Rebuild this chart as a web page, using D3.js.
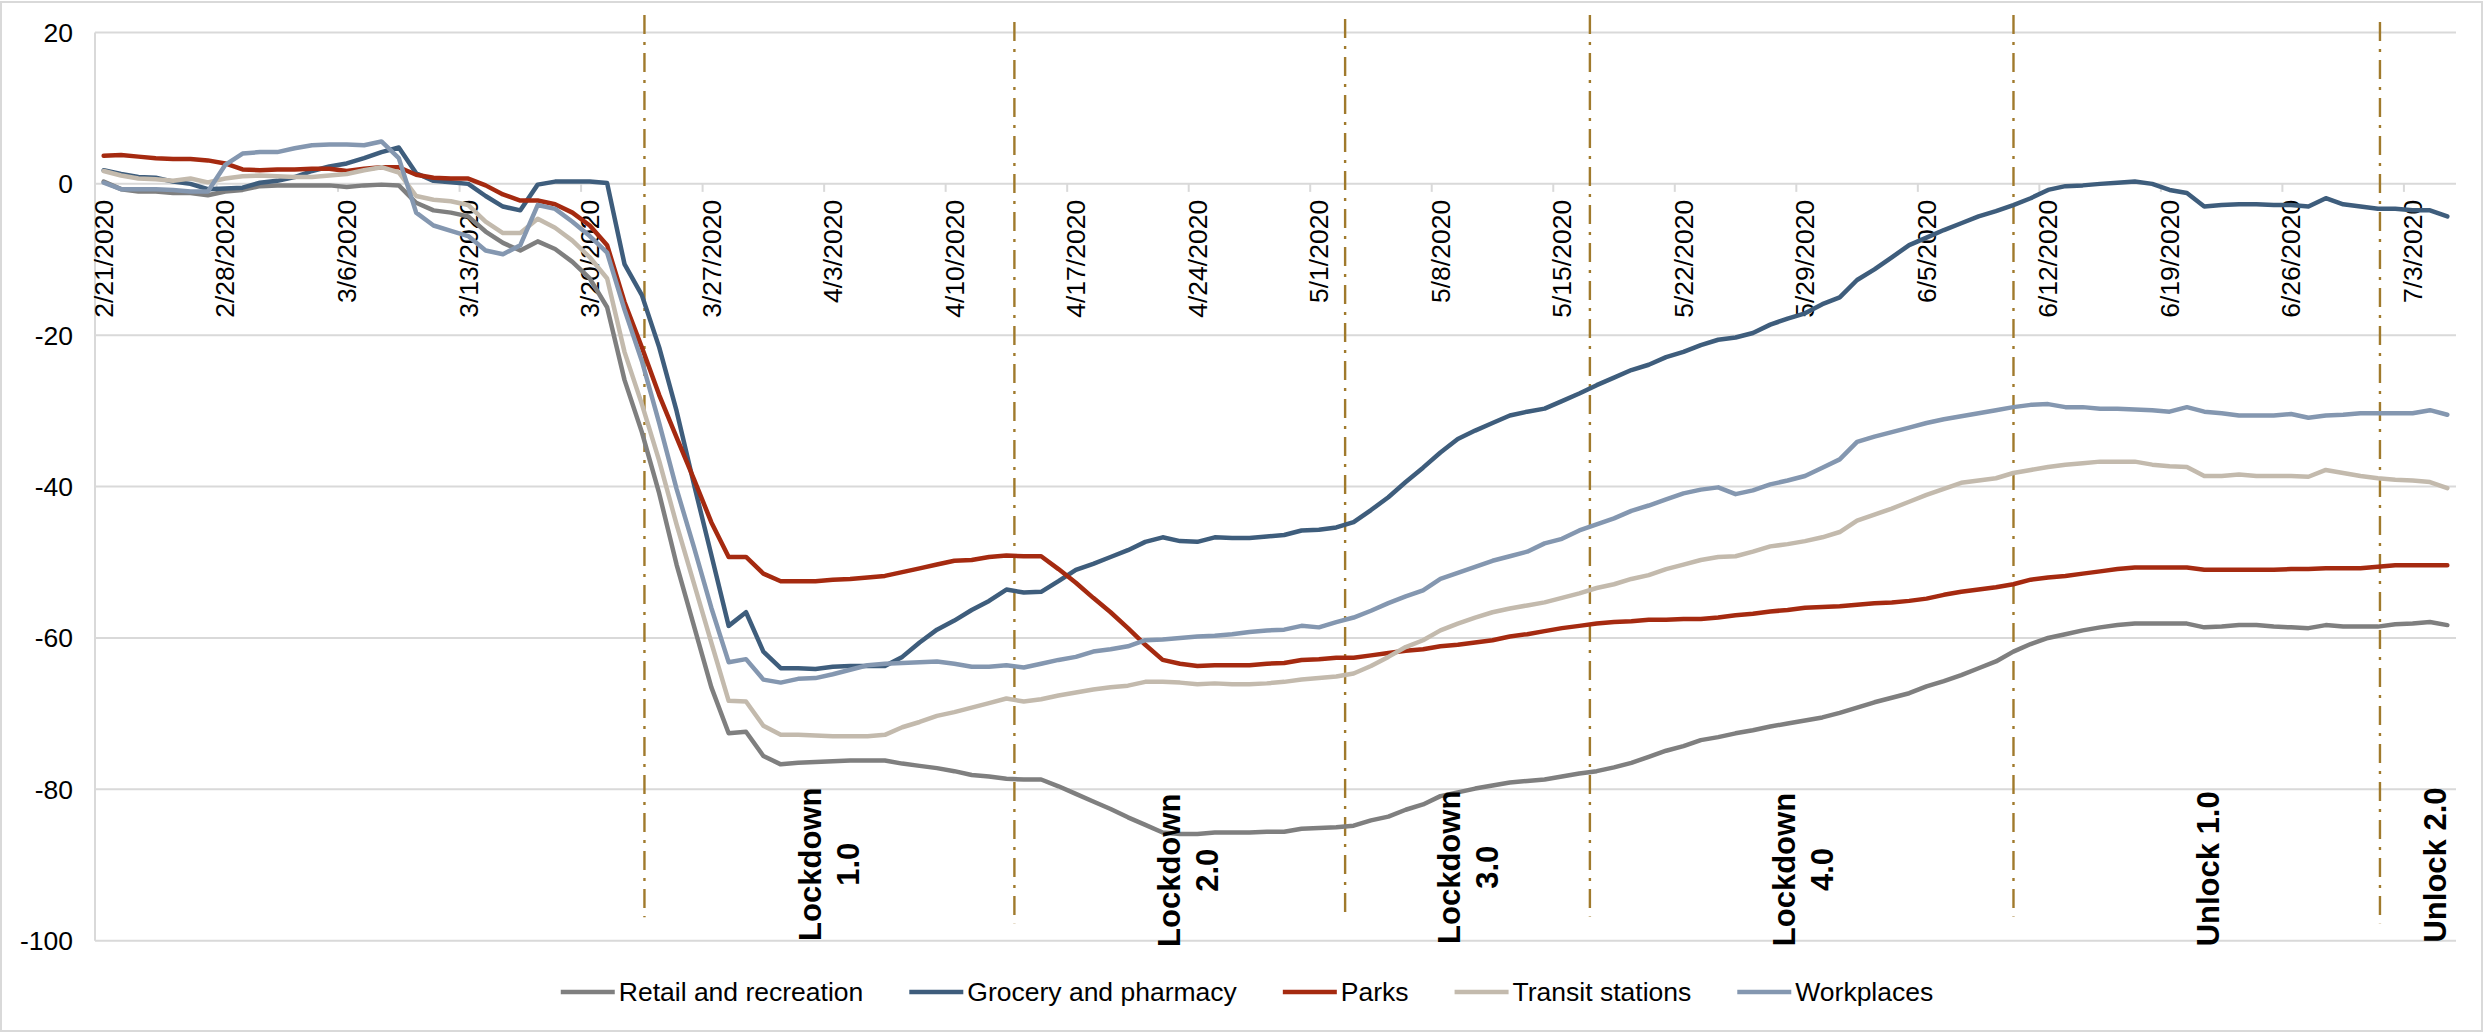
<!DOCTYPE html>
<html>
<head>
<meta charset="utf-8">
<script src="https://cdn.jsdelivr.net/npm/d3@7"></script>
<style>
  html, body { margin: 0; padding: 0; background: #ffffff; }
  svg { display: block; font-family: "Liberation Sans", Arial, sans-serif; }
</style>
</head>
<body>
<svg id="chart" width="2484" height="1033"></svg>
<script>
// ---- Data: mobility change from baseline (%), daily, 21 Feb 2020 – 5 Jul 2020 ----
const categories = d3.utcDay.range(new Date(Date.UTC(2020, 1, 21)), new Date(Date.UTC(2020, 6, 6)));

const tickLabels = ["2/21/2020", "2/28/2020", "3/6/2020", "3/13/2020", "3/20/2020", "3/27/2020",
  "4/3/2020", "4/10/2020", "4/17/2020", "4/24/2020", "5/1/2020", "5/8/2020", "5/15/2020",
  "5/22/2020", "5/29/2020", "6/5/2020", "6/12/2020", "6/19/2020", "6/26/2020", "7/3/2020"];

const yTicks = [20, 0, -20, -40, -60, -80, -100];

const seriesNames = ["Retail and recreation", "Grocery and pharmacy", "Parks", "Transit stations", "Workplaces"];

const retail = [0.3,-0.7,-1.0,-1.0,-1.2,-1.2,-1.5,-1.0,-0.8,-0.3,
  -0.2,-0.2,-0.2,-0.2,-0.4,-0.2,-0.1,-0.2,-2.5,-3.5,
  -3.8,-4.3,-6.3,-7.8,-8.8,-7.6,-8.6,-10.3,-12.5,-16.3,
  -25.9,-32.8,-40.9,-50.3,-58.4,-66.5,-72.6,-72.4,-75.6,-76.7,
  -76.5,-76.4,-76.3,-76.2,-76.2,-76.2,-76.6,-76.9,-77.2,-77.6,
  -78.1,-78.3,-78.6,-78.7,-78.7,-79.6,-80.6,-81.6,-82.6,-83.7,
  -84.7,-85.7,-85.9,-85.9,-85.7,-85.7,-85.7,-85.6,-85.6,-85.2,
  -85.1,-85.0,-84.8,-84.1,-83.6,-82.7,-82.0,-80.9,-80.4,-79.9,
  -79.5,-79.1,-78.9,-78.7,-78.3,-77.9,-77.6,-77.1,-76.5,-75.7,
  -74.9,-74.3,-73.5,-73.1,-72.6,-72.2,-71.7,-71.3,-70.9,-70.5,
  -69.9,-69.2,-68.5,-67.9,-67.3,-66.4,-65.7,-64.9,-64.0,-63.1,
  -61.8,-60.8,-60.0,-59.5,-59.0,-58.6,-58.3,-58.1,-58.1,-58.1,
  -58.1,-58.6,-58.5,-58.3,-58.3,-58.5,-58.6,-58.7,-58.3,-58.5,
  -58.5,-58.5,-58.2,-58.1,-57.9,-58.3];

const grocery = [1.8,1.3,0.9,0.8,0.3,0.0,-0.7,-0.6,-0.5,0.15,
  0.4,0.9,1.7,2.3,2.7,3.4,4.2,4.8,1.4,0.4,
  0.2,0.0,-1.6,-3.0,-3.5,-0.1,0.3,0.3,0.3,0.1,
  -10.6,-14.7,-21.6,-30.0,-39.7,-49.0,-58.4,-56.6,-61.8,-64.0,
  -64.0,-64.1,-63.8,-63.7,-63.7,-63.7,-62.5,-60.6,-58.9,-57.7,
  -56.3,-55.1,-53.6,-54.0,-53.9,-52.5,-51.0,-50.2,-49.3,-48.4,
  -47.3,-46.7,-47.2,-47.3,-46.7,-46.8,-46.8,-46.6,-46.4,-45.8,
  -45.7,-45.4,-44.7,-43.1,-41.4,-39.4,-37.5,-35.5,-33.7,-32.6,
  -31.6,-30.6,-30.1,-29.7,-28.7,-27.7,-26.6,-25.6,-24.6,-23.9,
  -22.9,-22.2,-21.3,-20.6,-20.3,-19.7,-18.6,-17.8,-17.1,-15.9,
  -15.0,-12.7,-11.3,-9.7,-8.1,-7.1,-6.1,-5.2,-4.3,-3.6,
  -2.8,-1.9,-0.8,-0.3,-0.2,0.0,0.15,0.3,0.0,-0.8,
  -1.2,-3.0,-2.8,-2.7,-2.7,-2.8,-2.8,-3.0,-1.9,-2.7,
  -3.0,-3.3,-3.3,-3.5,-3.5,-4.3];

const parks = [3.7,3.8,3.6,3.4,3.3,3.3,3.1,2.7,1.9,1.8,
  1.9,1.9,2.0,2.0,1.7,2.0,2.2,2.2,1.2,0.8,
  0.7,0.7,-0.2,-1.4,-2.2,-2.2,-2.7,-3.8,-5.5,-8.1,
  -15.6,-21.6,-27.9,-33.5,-39.0,-44.7,-49.3,-49.3,-51.5,-52.5,
  -52.5,-52.5,-52.3,-52.2,-52.0,-51.8,-51.3,-50.8,-50.3,-49.8,
  -49.7,-49.3,-49.1,-49.2,-49.2,-50.9,-52.7,-54.7,-56.6,-58.7,
  -60.9,-62.9,-63.4,-63.7,-63.6,-63.6,-63.6,-63.4,-63.3,-62.9,
  -62.8,-62.6,-62.6,-62.3,-62.0,-61.7,-61.5,-61.1,-60.9,-60.6,
  -60.3,-59.8,-59.5,-59.1,-58.7,-58.4,-58.1,-57.9,-57.8,-57.6,
  -57.6,-57.5,-57.5,-57.3,-57.0,-56.8,-56.5,-56.3,-56.0,-55.9,
  -55.8,-55.6,-55.4,-55.3,-55.1,-54.8,-54.3,-53.9,-53.6,-53.3,
  -52.9,-52.3,-52.0,-51.8,-51.5,-51.2,-50.9,-50.7,-50.7,-50.7,
  -50.7,-51.0,-51.0,-51.0,-51.0,-51.0,-50.9,-50.9,-50.8,-50.8,
  -50.8,-50.6,-50.4,-50.4,-50.4,-50.4];

const transit = [1.7,1.1,0.7,0.6,0.4,0.7,0.2,0.7,1.0,1.1,
  1.0,0.9,0.9,1.1,1.3,1.8,2.2,1.5,-1.6,-2.1,
  -2.3,-2.8,-5.0,-6.5,-6.5,-4.6,-5.8,-7.5,-9.7,-12.5,
  -22.2,-29.1,-36.6,-45.0,-52.8,-60.6,-68.3,-68.4,-71.6,-72.8,
  -72.8,-72.9,-73.0,-73.0,-73.0,-72.8,-71.8,-71.1,-70.3,-69.8,
  -69.2,-68.6,-68.0,-68.4,-68.1,-67.6,-67.2,-66.8,-66.5,-66.3,
  -65.8,-65.8,-65.9,-66.1,-66.0,-66.1,-66.1,-66.0,-65.8,-65.5,
  -65.3,-65.1,-64.7,-63.7,-62.5,-61.2,-60.3,-59.0,-58.1,-57.3,
  -56.6,-56.1,-55.7,-55.3,-54.7,-54.1,-53.4,-52.9,-52.2,-51.7,
  -50.9,-50.3,-49.7,-49.3,-49.2,-48.6,-47.9,-47.6,-47.2,-46.7,
  -46.0,-44.5,-43.7,-42.9,-42.0,-41.1,-40.3,-39.5,-39.2,-38.9,
  -38.2,-37.8,-37.4,-37.1,-36.9,-36.7,-36.7,-36.7,-37.1,-37.3,
  -37.4,-38.6,-38.6,-38.4,-38.6,-38.6,-38.6,-38.7,-37.8,-38.2,
  -38.6,-38.9,-39.1,-39.2,-39.4,-40.2];

const workplaces = [0.15,-0.7,-0.7,-0.7,-0.8,-1.0,-1.0,2.5,4.0,4.2,
  4.2,4.7,5.1,5.2,5.2,5.1,5.6,3.4,-3.8,-5.5,
  -6.2,-6.9,-8.8,-9.3,-8.1,-2.8,-3.3,-5.0,-6.9,-9.1,
  -16.6,-23.4,-31.6,-40.3,-48.0,-56.0,-63.2,-62.8,-65.5,-65.9,
  -65.4,-65.3,-64.8,-64.2,-63.6,-63.4,-63.3,-63.2,-63.1,-63.4,
  -63.8,-63.8,-63.6,-63.9,-63.4,-62.9,-62.5,-61.8,-61.5,-61.1,
  -60.3,-60.2,-60.0,-59.8,-59.7,-59.5,-59.2,-59.0,-58.9,-58.4,
  -58.6,-57.9,-57.3,-56.4,-55.4,-54.5,-53.7,-52.2,-51.4,-50.6,
  -49.8,-49.2,-48.6,-47.5,-46.9,-45.8,-45.0,-44.2,-43.2,-42.5,
  -41.7,-40.9,-40.4,-40.1,-41.0,-40.5,-39.7,-39.2,-38.6,-37.5,
  -36.4,-34.1,-33.4,-32.8,-32.2,-31.6,-31.1,-30.7,-30.3,-29.9,
  -29.5,-29.2,-29.1,-29.5,-29.5,-29.7,-29.7,-29.8,-29.9,-30.1,
  -29.5,-30.1,-30.3,-30.6,-30.6,-30.6,-30.4,-30.9,-30.6,-30.5,
  -30.3,-30.3,-30.3,-30.3,-29.9,-30.5];

// Phase markers (position in days from 21 Feb) and their captions
const phaseNames = [["Lockdown", "1.0"], ["Lockdown", "2.0"], ["Lockdown", "3.0"], ["Lockdown", "4.0"], ["Unlock 1.0"], ["Unlock 2.0"]];
const phaseLineAt = [31.15, 52.46, 71.51, 85.61, 110.01, 131.12];
const phaseLineTop = [22.3, 21.4, 21.8, 22.3, 22.3, 21.4];
const phaseLineBottom = [-96.9, -97.7, -97.2, -96.8, -96.8, -97.7];
const phaseLabelAt = [41.8, 62.46, 78.6, 97.9, 121.2, 134.3];
const phaseLabelLevel = [-89.9, -90.7, -90.3, -90.6, -90.5, -90.0];

// ---- Styling ----
const colors = ["#7f7f7f", "#3e5d7c", "#a52a10", "#c3baad", "#8497b0"];
const gridColor = "#d9d9d9";
const phaseColor = "#a07a2c";

const svg = d3.select("#chart");
const W = 2484, H = 1033;
const plot = { left: 95, right: 2456, top: 32.5, bottom: 940.7 };

svg.append("rect").attr("x", 1).attr("y", 2).attr("width", W - 3).attr("height", H - 4)
  .attr("fill", "#ffffff").attr("stroke", gridColor).attr("stroke-width", 2);

const x = d3.scaleLinear().domain([-0.5, categories.length - 0.5]).range([plot.left, plot.right]);
const y = d3.scaleLinear().domain([-100, 20]).range([plot.bottom, plot.top]);

// Horizontal gridlines
svg.append("g").selectAll("line").data(yTicks).join("line")
  .attr("x1", plot.left).attr("x2", plot.right)
  .attr("y1", d => y(d)).attr("y2", d => y(d))
  .attr("stroke", gridColor).attr("stroke-width", 2);

// Vertical axis line
svg.append("line").attr("x1", plot.left).attr("x2", plot.left)
  .attr("y1", y(20)).attr("y2", y(-100))
  .attr("stroke", gridColor).attr("stroke-width", 2);

// Y tick labels
svg.append("g").selectAll("text").data(yTicks).join("text")
  .attr("x", 73).attr("y", d => y(d)).attr("dy", "0.35em")
  .attr("text-anchor", "end").attr("font-size", 26.5).attr("fill", "#000")
  .text(d => d);

// X axis: tick marks on category boundaries, labels on category centres
const fmt = d3.utcFormat("%-m/%-d/%Y");
const tickIdx = tickLabels.map(l => categories.findIndex(d => fmt(d) === l));

svg.append("g").selectAll("line").data(tickIdx).join("line")
  .attr("x1", d => x(d - 0.5)).attr("x2", d => x(d - 0.5))
  .attr("y1", y(0)).attr("y2", y(0) + 8)
  .attr("stroke", gridColor).attr("stroke-width", 2);

svg.append("g").selectAll("text").data(tickIdx).join("text")
  .attr("transform", d => `translate(${x(d)},${y(0) + 16}) rotate(-90)`)
  .attr("dy", "0.35em").attr("text-anchor", "end")
  .attr("font-size", 26.5).attr("fill", "#000")
  .text(d => fmt(categories[d]));

// Phase marker lines
svg.append("g").selectAll("line").data(phaseLineAt).join("line")
  .attr("x1", d => x(d)).attr("x2", d => x(d))
  .attr("y1", (d, i) => y(phaseLineTop[i])).attr("y2", (d, i) => y(phaseLineBottom[i]))
  .attr("stroke", phaseColor).attr("stroke-width", 2.4)
  .attr("stroke-dasharray", "19,8,3,8");

// Series lines
const seriesValues = [retail, grocery, parks, transit, workplaces];
const line = d3.line().x((d, i) => x(i)).y(d => y(d));
svg.append("g").selectAll("path").data(seriesValues).join("path")
  .attr("d", line)
  .attr("fill", "none")
  .attr("stroke", (d, i) => colors[i])
  .attr("stroke-width", 4.5)
  .attr("stroke-linejoin", "round")
  .attr("stroke-linecap", "round");

// Phase captions (rotated, bold)
const lineGap = 38;
const cap = svg.append("g").selectAll("text").data(phaseNames).join("text")
  .attr("transform", (d, i) => `translate(${x(phaseLabelAt[i])},${y(phaseLabelLevel[i])}) rotate(-90)`)
  .attr("text-anchor", "middle").attr("font-size", 31).attr("font-weight", "bold").attr("fill", "#000");
cap.each(function(lines) {
  const t = d3.select(this);
  lines.forEach((s, k) => {
    t.append("tspan").attr("x", 0)
      .attr("y", (k - (lines.length - 1) / 2) * lineGap)
      .attr("dy", "0.35em").text(s);
  });
});

// Legend
const legend = svg.append("g");
const items = legend.selectAll("g").data(seriesNames).join("g");
items.append("line").attr("x1", 0).attr("x2", 54).attr("y1", 0).attr("y2", 0)
  .attr("stroke", (d, i) => colors[i]).attr("stroke-width", 4.5);
items.append("text").attr("x", 58).attr("y", 9).attr("font-size", 26.5).attr("fill", "#000").text(d => d);
let offset = 0;
const widths = [];
items.each(function() {
  const w = 58 + d3.select(this).select("text").node().getComputedTextLength();
  widths.push(w);
});
const totalW = d3.sum(widths) + 46 * (widths.length - 1);
const legendX = 1247 - totalW / 2;
items.attr("transform", (d, i) => {
  const tx = legendX + offset;
  offset += widths[i] + 46;
  return `translate(${tx},992)`;
});
</script>
</body>
</html>
